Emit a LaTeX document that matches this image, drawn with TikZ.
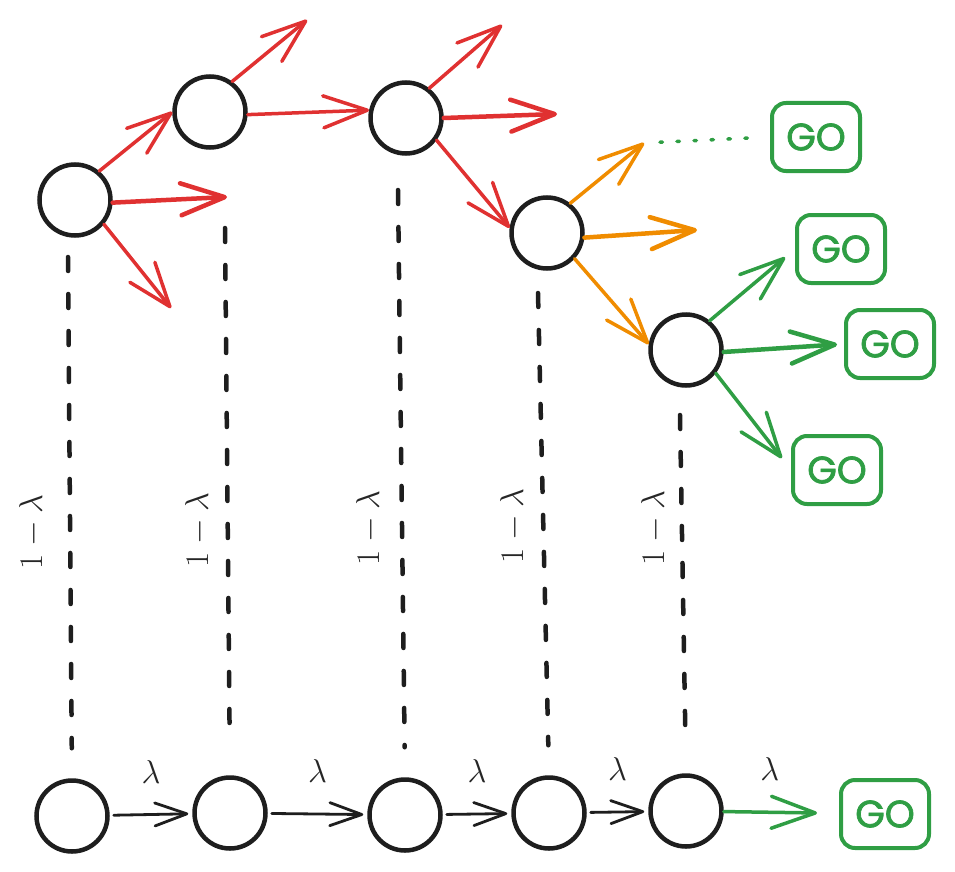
\RequirePackage{fix-cm}
\documentclass[tikz,border=0pt]{standalone}
\usepackage{fontspec}
\usetikzlibrary{arrows.meta}
\newfontfamily\gofont[FakeBold=2]{Poppins}
\definecolor{xred}{HTML}{E03131}
\definecolor{xorange}{HTML}{F08C00}
\definecolor{xgreen}{HTML}{2F9E44}
\definecolor{xblack}{HTML}{1E1E1E}
\newcommand{\ringsize}{71pt}

\begin{document}
\begin{tikzpicture}[x=1pt,y=-1pt,
    state/.style={draw=xblack, circle, line width=4.5pt, minimum size=\ringsize, inner sep=0pt},
    gobox/.style={draw=xgreen, rounded corners=14pt, line width=4pt, minimum width=88pt, minimum height=68pt,
        text=xgreen, font=\gofont\fontsize{38}{38}\selectfont},
    arr/.style={line width=3.5pt, line cap=round, -{Straight Barb[length=44pt, width=32pt, round]}},
    thinarr/.style={xblack, line width=2.8pt, line cap=round, -{Straight Barb[length=32pt, width=23pt, round]}},
    dashline/.style={xblack, line width=4.5pt, line cap=round, dash pattern=on 14pt off 23pt, shorten >=30pt},
    lam/.style={inner sep=0pt, text=black!85, font=\fontsize{33}{33}\selectfont}]

      \useasboundingbox (0,0) rectangle (955,872);

          %%  the climbing row %%
      \foreach \i/\x/\y in {1/75/200, 2/210/112, 3/406/118, 4/547/233, 5/686/350}
      { \node (t\i) at (\x,\y) [state] {};}

          %%  the flat row %%
      \foreach \i/\x/\y in {1/72/816, 2/230/813, 3/405/815, 4/549/813, 5/686/811}
      { \node (b\i) at (\x,\y) [state] {};}

      \node (g1) at (816,137) [gobox] {GO};
      \node (g2) at (841,249) [gobox] {GO};
      \node (g3) at (890,344) [gobox] {GO};
      \node (g4) at (837,470) [gobox] {GO};
      \node (g5) at (885,814) [gobox] {GO};

      \coordinate (e11) at (227,197);
      \coordinate (e12) at (171,308);
      \coordinate (e21) at (307,20);
      \coordinate (e31) at (502,25);
      \coordinate (e32) at (557,114);
      \coordinate (e41) at (644,143);
      \coordinate (e42) at (697,230);

      \draw[arr, xred] (t1.50) to (t2.west);
      \draw[arr, xred, line width=4.5pt] (t1.-4) to (e11);
      \draw[arr, xred] (t1.-40) to (e12);
      \draw[arr, xred] (t2.54) to (e21);
      \draw[arr, xred] (t2.-4) to (t3.168);
      \draw[arr, xred] (t3.52) to (e31);
      \draw[arr, xred, line width=4.5pt] (t3.0) to (e32);
      \draw[arr, xred] (t3.-36) to (t4.172);
      \draw[arr, xorange] (t4.52) to (e41);
      \draw[arr, xorange, line width=4.5pt] (t4.-7) to (e42);
      \draw[arr, xorange] (t4.-43) to (t5.171);
      \draw[xgreen, line width=3.5pt, line cap=round, dash pattern=on 2.5pt off 14.5pt,
            shorten <=16pt, shorten >=22pt] (e41) to (g1.west);
      \draw[arr, xgreen, shorten >=13pt] (t5.51) to (g2.west);
      \draw[arr, xgreen, line width=4.5pt, shorten >=7pt] (t5.-3) to (g3.west);
      \draw[arr, xgreen, shorten >=15pt] (t5.-38) to (g4.west);

          %%  the drops %%
      \coordinate (d1) at (68,257);
      \coordinate (d2) at (225,228);
      \coordinate (d3) at (398,190);
      \coordinate (d4) at (538,293);
      \coordinate (d5) at (680,415);
      \foreach \i in {1,...,5}
      { \draw[dashline] (d\i) to (b\i.north);}

      \foreach \i/\x/\y in {1/32/532, 2/198/530, 3/369/528, 4/513/526, 5/654/528}
      { \node (l\i) at (\x,\y) [lam, rotate=90] {$1-\lambda$};}

      \foreach \i/\j in {1/2, 2/3, 3/4, 4/5}
      { \draw[thinarr, shorten <=4pt, shorten >=4pt] (b\i) to node[lam, above=30pt] (m\i) {$\lambda$} (b\j);}
      \draw[arr, xgreen, shorten >=22pt] (b5) to node[lam, above=30pt, pos=.4] (m5) {$\lambda$} (g5);

\end{tikzpicture}
\end{document}
